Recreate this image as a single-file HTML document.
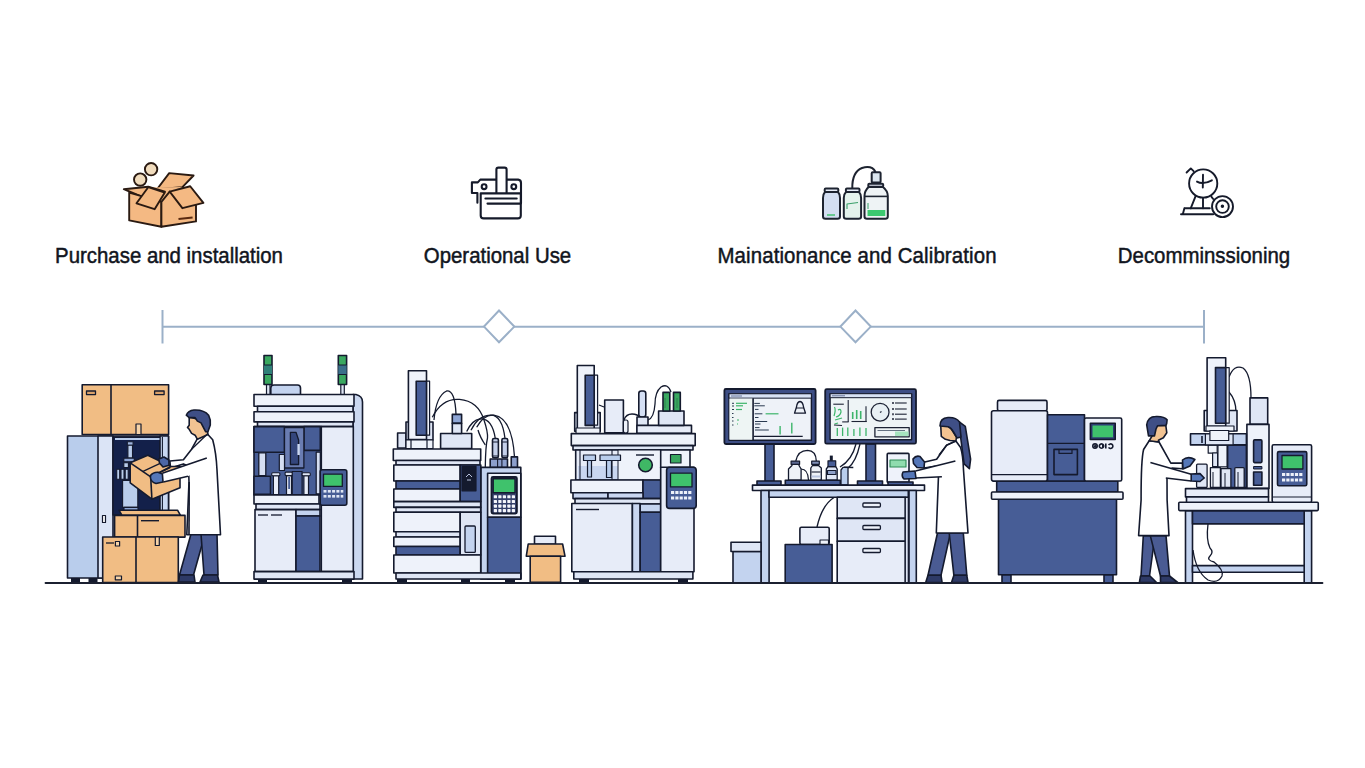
<!DOCTYPE html>
<html><head><meta charset="utf-8">
<style>
html,body{margin:0;padding:0;background:#ffffff;width:1365px;height:768px;overflow:hidden}
svg{position:absolute;left:0;top:0;display:block}
.lbl{font-family:"Liberation Sans",sans-serif;font-size:20.4px;fill:#111520;stroke:#111520;stroke-width:0.45px}
</style></head><body>
<svg width="1365" height="768" viewBox="0 0 1365 768">
<!-- labels -->
<g transform="translate(0,263.4) scale(1,1.05) translate(0,-263.4)">
<text class="lbl" x="169" y="263.4" text-anchor="middle">Purchase and installation</text>
<text class="lbl" x="497.5" y="263.4" text-anchor="middle">Operational Use</text>
<text class="lbl" x="857" y="263.4" text-anchor="middle" textLength="279" lengthAdjust="spacing">Mainationance and Calibration</text>
<text class="lbl" x="1204" y="263.4" text-anchor="middle">Decomminssioning</text>
</g>
<!-- ICON 1: box -->
<g stroke="#2a1a12" stroke-width="1.9" stroke-linejoin="round" fill="#f4b983">
<circle cx="151.1" cy="169.2" r="6.2" fill="#f1dcbd"/>
<circle cx="140.2" cy="179.6" r="6.2" fill="#f1dcbd"/>
<polygon points="169.2,173.1 193.6,175.5 182.4,187.2 157,189.2"/>
<polygon points="148,187.5 183,187 169.7,191.6 161.4,201.9 154.6,209" stroke="none"/>
<polygon points="123.8,189.2 148.2,186.7 165,191.6 150,196 140,196"/>
<polygon points="129.2,192.6 161.4,201.9 161.4,226.8 129.2,220.4"/>
<polygon points="161.4,201.9 169.7,191.6 196,205 196,221.4 161.4,226.8"/>
<polygon points="148.2,187.2 164.8,192.6 154.6,209.2 136.5,203.3"/>
<polygon points="169.7,191.6 190.2,186.25 203.4,202.9 182.4,208.2"/>
<line x1="178.5" y1="219" x2="192.6" y2="217.5" stroke="#5a2a10" stroke-width="2"/>
</g>
<!-- ICON 2: instrument -->
<g stroke="#151a2a" stroke-width="2.1" stroke-linejoin="round" stroke-linecap="round" fill="#fff">
<path d="M477.4 202.8 L477.4 193 L471.9 193 L471.9 182.4 L477.8 182.4 L480.3 179.6 L518.2 179.6 Q521 179.8 521 183 L521 203.2"/>
<path d="M496.4 192.6 L496.4 169.5 Q496.4 167.6 498.4 167.6 L504.6 167.6 Q506.6 167.6 506.6 169.5 L506.6 192.6"/>
<path d="M480.7 193.4 L520.8 193.4 L520.8 215.5 Q520.8 218.4 517.8 218.4 L483.7 218.4 Q480.7 218.4 480.7 215.5 Z"/>
<circle cx="484.1" cy="186.7" r="2.4"/>
<circle cx="513.8" cy="186.7" r="2.4"/>
<line x1="485.4" y1="198.5" x2="516.7" y2="198.5"/>
<line x1="487.5" y1="203.6" x2="520.5" y2="203.6"/>
</g>
<!-- ICON 3: bottles -->
<g stroke="#1d2330" stroke-width="2" stroke-linejoin="round">
<path d="M852.3 188.4 Q852 172 862 168 Q872 165 875.5 172" fill="none"/>
<rect x="824.7" y="188.4" width="13.6" height="3.6" rx="1" fill="#e7ecf8"/>
<path d="M825 192 Q823 194 823 198 L823 216.5 Q823 218.8 825.5 218.8 L837.5 218.8 Q840 218.8 840 216.5 L840 198 Q840 194 838 192 Z" fill="#d3def2"/>
<line x1="827" y1="215" x2="835" y2="215" stroke="#3cc06a" stroke-width="1.4"/>
<rect x="845.9" y="188.4" width="13.6" height="3.6" rx="1" fill="#e7ecf8"/>
<path d="M846 192 Q843.8 194 843.8 198 L843.8 216.5 Q843.8 218.8 846.3 218.8 L858.6 218.8 Q861.1 218.8 861.1 216.5 L861.1 198 Q861.1 194 859 192 Z" fill="#e4f2ec"/>
<path d="M847 209 L847 204 L858 202.5" fill="none" stroke="#3aa06a" stroke-width="1.1"/>
<rect x="871.7" y="172.3" width="8.9" height="10.1" rx="1" fill="#dbe6ef"/>
<rect x="868.3" y="183.7" width="14.9" height="3" rx="1" fill="#e7ecf8"/>
<path d="M868.5 187 Q864.5 191 864.5 196 L864.5 216.5 Q864.5 218.8 867 218.8 L885.3 218.8 Q887.8 218.8 887.8 216.5 L887.8 196 Q887.8 191 883 187 Z" fill="#eef3f5"/>
<line x1="864.8" y1="196.4" x2="887.5" y2="196.4" stroke-width="1.6"/>
<rect x="867.5" y="210" width="17.8" height="6" fill="#3cc870" stroke="none"/>
<line x1="868" y1="203" x2="868" y2="209" stroke="#3aa06a" stroke-width="1"/>
</g>
<!-- ICON 4: stopwatch / target -->
<g stroke="#151a2a" stroke-width="1.9" stroke-linejoin="round" stroke-linecap="round" fill="none">
<circle cx="1203.2" cy="183.5" r="14.1" fill="#fff"/>
<path d="M1203 174.8 L1202.8 187.5"/>
<path d="M1197 181.6 Q1203 185 1211.9 180.3"/>
<path d="M1186.6 172.5 L1190.8 168.4 L1193.6 171.2" stroke-width="1.9"/>
<line x1="1195.4" y1="196.6" x2="1190.7" y2="208.3"/>
<line x1="1203" y1="197.7" x2="1203" y2="208.3"/>
<path d="M1184.4 208.3 L1209.8 208.3 M1181 214.2 L1213.2 214.2 M1184.4 208.3 L1182.8 214.2"/>
<line x1="1211.5" y1="196.8" x2="1213.2" y2="199"/>
<circle cx="1222.5" cy="206.6" r="10.5" fill="#fff"/>
<circle cx="1222.5" cy="206.6" r="6.3"/>
<circle cx="1222.4" cy="206.2" r="0.8" fill="#151a2a"/>
</g>
<!-- timeline -->
<g stroke="#9bb0c8" stroke-width="2" fill="none">
<line x1="162.5" y1="326.8" x2="484" y2="326.8"/>
<line x1="514" y1="326.8" x2="840.5" y2="326.8"/>
<line x1="870.5" y1="326.8" x2="1204" y2="326.8"/>
<line x1="162.5" y1="310" x2="162.5" y2="343.5"/>
<line x1="1204" y1="310" x2="1204" y2="343.5"/>
<path d="M499 310.5 L514.3 326.6 L499 342.3 L484 326.6 Z" fill="#fff"/>
<path d="M855.5 310.5 L870.8 326.6 L855.5 342.3 L840.4 326.6 Z" fill="#fff"/>
</g>

<!-- OBJECT 1: cabinet, boxes, man -->
<g stroke="#141a2e" stroke-width="1.6" stroke-linejoin="round">
<!-- feet -->
<rect x="71" y="577" width="9" height="6" fill="#141a2e" stroke="none"/>
<rect x="88.5" y="577" width="9" height="6" fill="#141a2e" stroke="none"/>
<!-- cabinet -->
<rect x="67.5" y="436" width="101" height="142" fill="#b9cdec"/>
<rect x="98" y="436" width="15" height="142" fill="#dbe4f6"/>
<rect x="113" y="437" width="47" height="78" fill="#13204a"/>
<rect x="160" y="436" width="8.5" height="80" fill="#c9d8f2"/>
<!-- inside opening items -->
<rect x="115" y="438" width="44.5" height="2" fill="#b9cdec" stroke="none"/>
<line x1="162.4" y1="437" x2="162.4" y2="515" stroke-width="1.1"/>
<g stroke-width="1.1">
<rect x="127.3" y="441.7" width="5.8" height="3.5" fill="#9db3dd"/>
<rect x="127.9" y="445.2" width="4.6" height="12.9" fill="#b9cdec"/>
<rect x="123.8" y="458.1" width="10.5" height="3.6" fill="#8ea6d6"/>
<rect x="123.8" y="462.8" width="4.6" height="4.7" fill="#b9cdec"/>
<rect x="116.7" y="469.3" width="3" height="9.9" fill="#b9cdec"/><rect x="121" y="469.3" width="3" height="9.9" fill="#b9cdec"/><rect x="125.2" y="469.3" width="3" height="9.9" fill="#b9cdec"/>
<rect x="122.6" y="480.4" width="15.2" height="27" fill="#b9cdec"/>
<rect x="124" y="507.4" width="14" height="3" fill="#8ea6d6"/>
</g>
<!-- door handle -->
<rect x="102.5" y="515.5" width="3" height="7" fill="#fff" stroke-width="1.2"/>
<!-- top box -->
<rect x="82.2" y="384.7" width="86.4" height="49.8" fill="#f1bd84"/>
<line x1="111" y1="384.7" x2="111" y2="434.5"/>
<rect x="86.5" y="391" width="9" height="3.6" fill="#d9a16a" stroke-width="1.3"/>
<rect x="154.6" y="391" width="9.5" height="3.6" fill="#d9a16a" stroke-width="1.3"/>
<rect x="136" y="424" width="5" height="10.5" fill="#f6d3a8" stroke-width="1.2"/>
<!-- middle box -->
<polygon points="119,510.2 177.5,510.2 180.5,515.4 122,515.4" fill="#f1bd84"/>
<rect x="114.6" y="515.4" width="70.4" height="21.7" fill="#f1bd84"/>
<line x1="137.5" y1="515.4" x2="137.5" y2="537"/>
<line x1="141" y1="520.7" x2="159" y2="520.7" stroke-width="1.4"/>
<!-- bottom box -->
<rect x="102.7" y="537" width="75.6" height="45.5" fill="#f1bd84"/>
<line x1="136" y1="537" x2="136" y2="582.5"/>
<line x1="106" y1="543" x2="114" y2="543" stroke-width="1.3"/>
<rect x="115.4" y="541.5" width="4.2" height="4.5" fill="#f6d3a8" stroke-width="1.2"/>
<rect x="115.3" y="576" width="6.2" height="3.8" fill="#f6d3a8" stroke-width="1.2"/>
<rect x="155.3" y="537" width="4" height="8.5" fill="#f6d3a8" stroke-width="1.2"/>
<!-- man legs -->
<polygon points="191,534 205,534 193.5,575 179.5,575" fill="#4a5b93"/>
<polygon points="201,534 217,534 218,575 204,575" fill="#4a5b93"/>
<path d="M178.5 582 L179.5 575 L194 575 L195 582 Z" fill="#2e3a66"/>
<path d="M200 582 L203 575 L217.5 575 L219 582 Z" fill="#2e3a66"/>
<!-- coat -->
<path d="M197.4 438.7 L207.4 434 L212.7 439.8 Q216.2 452.7 217 470 L220.5 534.7 L186.8 534.7 L189 482 L188.5 466 L183.4 463.9 L170.5 468 L169.9 461 L183.4 459.8 L191.6 449.2 Z" fill="#ffffff"/>
<line x1="189.2" y1="482" x2="189" y2="534"/>
<!-- held box -->
<polygon points="130.2,462.8 147.8,455.2 171,466.5 180,466.5 180,487.7 151.9,499.2 130.2,482.8" fill="#f1bd84"/>
<polyline points="130.2,462.8 150.7,476.9 170.1,467.5" fill="none"/>
<line x1="150.7" y1="476.9" x2="151.9" y2="499.2"/>
<line x1="150.7" y1="476.9" x2="171" y2="466.5"/>
<line x1="142.5" y1="471.6" x2="160.1" y2="463.4" stroke-width="1.3"/>
<!-- back glove -->
<path d="M158.9 459 L164 457 L168.9 460 L169 465.2 L163 467 L159.5 463 Z" fill="#4d67a6"/>
<!-- front arm -->
<path d="M206.8 458 L162.3 473.2 L163.4 482 L188 476.2 L200 470 Z" fill="#ffffff" stroke="none"/>
<polyline points="206.8,458 162.3,473.2" fill="none"/>
<polyline points="163.4,482 188,476.2" fill="none"/>
<!-- front glove -->
<path d="M150.5 475.5 Q153 472 158 472.2 L162.4 474 L163 482 L156 483.5 Q151 482 150.5 478 Z" fill="#5577b8"/>
<!-- neck/face -->
<path d="M189.2 417 L189.2 425.2 L187.5 427.5 L189.2 429.3 L191.6 433.4 L195.1 435.2 L197.4 439.3 L208 434.6 L207.4 431 L204 424 L197 419 Z" fill="#f2c392"/>
<!-- hair -->
<path d="M186.3 415.2 Q188 410.5 194 410 Q204 409.5 208.6 415.2 Q211 420 210.3 425 L208 431.6 Q206 432 205.6 431.6 L201 422.9 L197.4 421.1 L195.1 417.6 L189.2 417.6 Z" fill="#3f4f86"/>
<path d="M207.4 434 L191.6 449.2" fill="none" stroke-width="1.3"/>
</g>

<!-- OBJECT 2: machine with signal lights -->
<g stroke="#141a2e" stroke-width="1.6" stroke-linejoin="round">
<rect x="258" y="578" width="9" height="5" fill="#141a2e" stroke="none"/>
<rect x="342" y="578" width="10" height="5" fill="#141a2e" stroke="none"/>
<!-- poles -->
<rect x="266.5" y="384" width="3.5" height="11" fill="#dfe6f5" stroke-width="1.2"/>
<rect x="340.8" y="384" width="3.5" height="11" fill="#dfe6f5" stroke-width="1.2"/>
<!-- lights -->
<rect x="264" y="355.5" width="8" height="29" fill="#3aa860"/>
<rect x="264" y="365" width="8" height="9.5" fill="#2f7f78" stroke="none"/>
<line x1="264" y1="365" x2="272" y2="365" stroke-width="1"/><line x1="264" y1="374.5" x2="272" y2="374.5" stroke-width="1"/>
<rect x="338.3" y="355.5" width="8.3" height="29" fill="#3aa860"/>
<rect x="338.3" y="365" width="8.3" height="9.5" fill="#3a6f8a" stroke="none"/>
<line x1="338.3" y1="365" x2="346.6" y2="365" stroke-width="1"/><line x1="338.3" y1="374.5" x2="346.6" y2="374.5" stroke-width="1"/>
<!-- small top box -->
<path d="M270.8 395 L270.8 388 Q270.8 385 274 385 L297.5 385 Q300.5 385 300.5 388 L300.5 395 Z" fill="#c3d3ef"/>
<!-- right side panel -->
<path d="M353 394.5 L356 394.5 Q362.5 396 362.5 402 L362.5 579 L353 579 Z" fill="#cbd8f0"/>
<!-- slabs -->
<rect x="254" y="394.5" width="100" height="11.8" fill="#eef2fa"/>
<rect x="257.5" y="406.3" width="95.5" height="5.4" fill="#dfe6f5"/>
<rect x="254" y="411.7" width="100" height="10.2" fill="#eef2fa"/>
<rect x="257.5" y="421.9" width="95.5" height="4.7" fill="#dfe6f5"/>
<!-- mid navy area -->
<rect x="254" y="426.6" width="67.3" height="68.4" fill="#475d96"/>
<rect x="254" y="426.6" width="30.5" height="25.6" fill="#475d96"/>
<rect x="303.9" y="426.6" width="16.4" height="23.8" fill="#475d96"/>
<rect x="284.5" y="427.6" width="19.4" height="40.4" fill="#6a7db2" stroke-width="1.3"/>
<path d="M290.4 432.3 L296 432.3 L298.6 440 L298.6 464.5 L290.4 464.5 Z" fill="#34467c" stroke-width="1.3"/>
<rect x="297.4" y="444" width="2.4" height="11" fill="#c9d6f0" stroke="none"/>
<rect x="258.8" y="452.8" width="7" height="22.8" fill="#d5def2" stroke-width="1.3"/>
<rect x="279.3" y="454.5" width="5.2" height="16" fill="#d5def2" stroke-width="1.2"/>
<rect x="316.2" y="452.2" width="4.1" height="41.6" fill="#d5def2" stroke-width="1.2"/>
<rect x="254" y="476.2" width="16.5" height="18.2" fill="#475d96"/>
<rect x="292.2" y="471.5" width="9.9" height="23" fill="#475d96" stroke-width="1.2"/>
<rect x="273.4" y="475.6" width="5.3" height="19" fill="#e7ecf8" stroke-width="1.2"/>
<rect x="271.7" y="472.7" width="8.2" height="3" rx="1" fill="#dfe6f5" stroke-width="1.1"/>
<rect x="286.5" y="475.6" width="5" height="19" fill="#e7ecf8" stroke-width="1.2"/>
<rect x="288.2" y="477" width="1.8" height="12" fill="#475d96" stroke="none"/>
<rect x="285.1" y="472.1" width="7.1" height="3.5" rx="1" fill="#dfe6f5" stroke-width="1.1"/>
<rect x="303.9" y="475.6" width="4.6" height="19" fill="#e7ecf8" stroke-width="1.2"/>
<rect x="302.1" y="472.7" width="8.2" height="3" rx="1" fill="#dfe6f5" stroke-width="1.1"/>
<!-- right white panel -->
<rect x="321.3" y="426.6" width="32" height="145" fill="#e7ecf8"/>
<!-- shelf -->
<rect x="254" y="495" width="65" height="9" fill="#eef2fa"/>
<rect x="256" y="504" width="64" height="5.6" fill="#dfe6f5"/>
<!-- lower door -->
<rect x="255" y="509.6" width="41" height="62" fill="#e7ecf8"/>
<line x1="258" y1="515" x2="268" y2="515" stroke-width="1.3"/><line x1="271" y1="515" x2="282" y2="515" stroke-width="1.3"/>
<rect x="296" y="509.6" width="24" height="6.4" fill="#c3d3ef"/>
<rect x="296" y="516" width="24" height="55.6" fill="#475d96"/>
<!-- base -->
<rect x="254" y="571.6" width="100" height="7.5" fill="#dfe6f5"/>
<!-- keypad -->
<rect x="320.2" y="469.8" width="26.6" height="35.4" rx="2" fill="#475d96"/>
<rect x="323.5" y="474.2" width="18.8" height="12.2" fill="#3fc26c" stroke-width="1.3"/>
<g fill="#dfe6f5" stroke="none">
<rect x="323.5" y="490" width="3" height="2.6"/><rect x="327.8" y="490" width="3" height="2.6"/><rect x="332.1" y="490" width="3" height="2.6"/><rect x="336.4" y="490" width="3" height="2.6"/><rect x="340.7" y="490" width="2.6" height="2.6"/>
<rect x="323.5" y="495" width="3" height="2.6"/><rect x="327.8" y="495" width="3" height="2.6"/><rect x="332.1" y="495" width="3" height="2.6"/><rect x="336.4" y="495" width="3" height="2.6"/><rect x="340.7" y="495" width="2.6" height="2.6"/>
</g>
</g>

<!-- OBJECT 3: HPLC stack -->
<g stroke="#141a2e" stroke-width="1.6" stroke-linejoin="round">
<rect x="397" y="578" width="10" height="5" fill="#141a2e" stroke="none"/>
<rect x="461" y="578" width="9" height="5" fill="#141a2e" stroke="none"/>
<rect x="505" y="578" width="10" height="5" fill="#141a2e" stroke="none"/>
<!-- tubes (behind) -->
<g fill="none" stroke-width="1.3">
<path d="M434 420 Q436 396 446.6 391 Q455 390 456 414.4"/>
<path d="M432.3 417.3 Q442 398 459.5 399.4 Q478 401 484 420 Q488 432 487.5 438 Q485.5 446 485.3 467.5"/>
<path d="M478 430 Q480 437 485.3 445"/>
<path d="M466.7 431.6 Q472 420 480 419 Q492 418 495.3 438.5"/>
<path d="M471 430.2 Q478 416 489.6 415.2 Q502 414 505 438.5"/>
<path d="M476.7 427.3 Q484 414 493.9 415.2 Q512 418 514.5 456.9"/>
</g>
<!-- tower -->
<rect x="397.6" y="433" width="8.4" height="15" fill="#dfe6f5"/>
<rect x="406" y="422" width="27" height="18" fill="#dfe6f5"/>
<rect x="408.4" y="370.7" width="18.1" height="68.8" fill="#eef2fa"/>
<rect x="426.5" y="381.2" width="3.1" height="54" fill="#eef2fa" stroke-width="1.2"/>
<rect x="416.2" y="381.2" width="10.3" height="54" fill="#475d96"/>
<rect x="406" y="440" width="27" height="8.5" fill="#eef2fa" stroke-width="1.2"/>
<line x1="411" y1="440" x2="411" y2="448.5" stroke-width="1.2"/><line x1="427" y1="440" x2="427" y2="448.5" stroke-width="1.2"/>
<!-- middle box + cylinder -->
<rect x="440.6" y="433.5" width="31.1" height="15" fill="#dfe6f5"/>
<rect x="452.3" y="414.4" width="9.3" height="9" fill="#8ea6d6"/>
<rect x="452.3" y="423.4" width="9.3" height="10.1" fill="#dfe6f5"/>
<!-- vials -->
<rect x="490.2" y="459" width="17.3" height="8.5" fill="#8c9fcc"/>
<line x1="497.6" y1="459" x2="497.6" y2="467.5" stroke-width="1.1"/><line x1="501.9" y1="459" x2="501.9" y2="467.5" stroke-width="1.1"/>
<rect x="511.25" y="456.9" width="6.25" height="10.6" fill="#8c9fcc"/>
<rect x="492.5" y="438.5" width="5.9" height="19.2" rx="1.5" fill="#c5d0ea"/>
<rect x="501.9" y="438.5" width="5.8" height="19.2" rx="1.5" fill="#c5d0ea"/>
<line x1="492.5" y1="442" x2="498.4" y2="442" stroke-width="1"/><line x1="501.9" y1="442" x2="507.7" y2="442" stroke-width="1"/>
<line x1="492.5" y1="456" x2="498.4" y2="456" stroke-width="1"/><line x1="501.9" y1="456" x2="507.7" y2="456" stroke-width="1"/>
<!-- right tall module -->
<rect x="480.8" y="467.4" width="40" height="111.6" fill="#c3d3ef"/>
<rect x="487.6" y="473.2" width="33.2" height="44" fill="#eef2fa"/>
<rect x="487.6" y="517.2" width="33.2" height="61.8" fill="#475d96"/>
<rect x="491.5" y="477" width="25.4" height="36.5" rx="1.5" fill="#34406a" stroke-width="1.8"/>
<rect x="493.2" y="478.8" width="21.8" height="14" fill="#3fc26c" stroke-width="1.4"/>
<g fill="#f4f6fb" stroke="none">
<rect x="493.8" y="495.2" width="3.2" height="3.1" rx="0.6"/><rect x="498.3" y="495.2" width="3.2" height="3.1" rx="0.6"/><rect x="502.8" y="495.2" width="3.2" height="3.1" rx="0.6"/><rect x="507.3" y="495.2" width="3.2" height="3.1" rx="0.6"/><rect x="511.8" y="495.2" width="3.2" height="3.1" rx="0.6"/>
<rect x="493.8" y="499.9" width="3.2" height="3.1" rx="0.6"/><rect x="498.3" y="499.9" width="3.2" height="3.1" rx="0.6"/><rect x="502.8" y="499.9" width="3.2" height="3.1" rx="0.6"/><rect x="507.3" y="499.9" width="3.2" height="3.1" rx="0.6"/><rect x="511.8" y="499.9" width="3.2" height="3.1" rx="0.6"/>
<rect x="493.8" y="504.6" width="3.2" height="3.1" rx="0.6"/><rect x="498.3" y="504.6" width="3.2" height="3.1" rx="0.6"/><rect x="502.8" y="504.6" width="3.2" height="3.1" rx="0.6"/><rect x="507.3" y="504.6" width="3.2" height="3.1" rx="0.6"/><rect x="511.8" y="504.6" width="3.2" height="3.1" rx="0.6"/>
<rect x="493.8" y="509.1" width="3.2" height="3.1" rx="0.6"/><rect x="498.3" y="509.1" width="3.2" height="3.1" rx="0.6"/><rect x="502.8" y="509.1" width="3.2" height="3.1" rx="0.6"/><rect x="507.3" y="509.1" width="3.2" height="3.1" rx="0.6"/><rect x="511.8" y="509.1" width="3.2" height="3.1" rx="0.6"/>
</g>
<!-- stack layers -->
<rect x="393.3" y="449" width="87.4" height="11.5" fill="#eef2fa"/>
<rect x="396" y="460.5" width="84" height="4.5" fill="#dfe6f5"/>
<rect x="393.8" y="465" width="66.4" height="16" fill="#eef2fa"/>
<rect x="396" y="481" width="64.2" height="8" fill="#475d96"/>
<rect x="393.8" y="489" width="66.4" height="12.6" fill="#eef2fa"/>
<rect x="460.2" y="465" width="20.6" height="36.6" fill="#475d96"/>
<rect x="462" y="466.4" width="14" height="24.4" fill="#141a2e" stroke-width="1.2"/>
<path d="M466 477 l3 -3 l3 3 m-5 3 l4 0" stroke="#c9d6f0" stroke-width="0.9" fill="none"/>
<rect x="393.8" y="501.6" width="86.9" height="5.8" fill="#dfe6f5"/>
<rect x="396" y="507.4" width="84.7" height="4.9" fill="#dfe6f5"/>
<rect x="393.8" y="512.3" width="66.4" height="19.5" fill="#eef2fa"/>
<rect x="396" y="531.8" width="64.2" height="5.2" fill="#dfe6f5"/>
<rect x="393.8" y="537" width="66.4" height="9.5" fill="#eef2fa"/>
<rect x="396" y="546.5" width="64.2" height="8.5" fill="#475d96"/>
<rect x="460.2" y="512.3" width="20.6" height="42.7" fill="#dfe6f5"/>
<rect x="465" y="526" width="10.3" height="26.4" rx="1" fill="#c3d3ef" stroke-width="1.3"/>
<rect x="393.8" y="555" width="86.9" height="18" fill="#eef2fa"/>
<rect x="396" y="573" width="124.8" height="6" fill="#dfe6f5"/>
</g>
<!-- small orange box -->
<g stroke="#141a2e" stroke-width="1.6" stroke-linejoin="round">
<rect x="534.5" y="536.3" width="21" height="8" fill="#e7ecf8"/>
<polygon points="528.2,544 562.6,544 565,556.2 526.3,556.2" fill="#f1bd84"/>
<rect x="530.2" y="556.2" width="30.4" height="26.1" fill="#f1bd84"/>
</g>

<!-- OBJECT 4: automated workstation -->
<g stroke="#141a2e" stroke-width="1.6" stroke-linejoin="round">
<rect x="579" y="578" width="10" height="5" fill="#141a2e" stroke="none"/>
<rect x="678" y="578" width="10" height="5" fill="#141a2e" stroke="none"/>
<!-- cable -->
<path d="M648 420 Q654 418 655 404 Q655 392 661 387 Q668 383 671 392" fill="none" stroke-width="1.3"/>
<path d="M624 420 Q626 414 632 414 Q638 414 640 418" fill="none" stroke-width="1.3"/>
<path d="M599 405 L604 407" fill="none" stroke-width="1.3"/>
<!-- tower -->
<rect x="574.7" y="412.6" width="25.5" height="18.7" fill="#dfe6f5"/>
<rect x="577.3" y="365.5" width="16.9" height="64.5" fill="#eef2fa"/>
<rect x="594.2" y="375.2" width="3.4" height="50" fill="#eef2fa" stroke-width="1.2"/>
<rect x="585.2" y="375.2" width="9" height="50.2" fill="#475d96"/>
<rect x="576" y="428" width="24" height="5.5" fill="#eef2fa" stroke-width="1.2"/>
<!-- box -->
<rect x="604.7" y="400" width="18.7" height="32.8" fill="#e7ecf8"/>
<rect x="623.4" y="420" width="4.6" height="13" rx="2" fill="#eef2fa" stroke-width="1.2"/>
<!-- column -->
<rect x="638.8" y="391" width="7" height="26" rx="2.5" fill="#d5e0f5"/>
<rect x="637" y="417" width="11" height="16" fill="#dfe6f5"/>
<!-- platform right -->
<rect x="636.9" y="425.4" width="54.6" height="7.8" fill="#e7ecf8"/>
<rect x="658.6" y="411" width="25.4" height="14.4" fill="#dfe6f5"/>
<rect x="663" y="392.4" width="6.8" height="18.6" fill="#3aa860"/>
<rect x="673.5" y="392.4" width="6.8" height="18.6" fill="#3aa860"/>
<path d="M665 398 v10 M677 398 v10" stroke="#2b7a48" stroke-width="0.8"/>
<!-- big slab -->
<rect x="571.3" y="433.6" width="123.9" height="12" fill="#eef2fa"/>
<rect x="573" y="445.6" width="120" height="4.4" fill="#dfe6f5"/>
<!-- interior -->
<rect x="575.7" y="450" width="85" height="30" fill="#e7ecf8"/>
<rect x="578" y="466" width="58" height="13" fill="#c9d6f0" stroke="none"/>
<rect x="618" y="450" width="42.7" height="30" fill="#eef2fa" stroke-width="1"/>
<line x1="580" y1="450" x2="580" y2="480" stroke-width="1.1"/>
<line x1="612" y1="450" x2="612" y2="480" stroke-width="1.1"/>
<rect x="583.5" y="455" width="12" height="5.5" fill="#b9cdec" stroke-width="1.2"/>
<rect x="587.5" y="460.5" width="4" height="16.5" fill="#b9cdec" stroke-width="1.2"/>
<rect x="600" y="455" width="20.5" height="5.5" fill="#b9cdec" stroke-width="1.2"/>
<rect x="606.5" y="460.5" width="5" height="17" fill="#b9cdec" stroke-width="1.2"/>
<line x1="636" y1="455" x2="654" y2="455" stroke-width="1.4"/>
<circle cx="645.5" cy="465" r="6.8" fill="#3fb865"/>
<!-- right compartment -->
<rect x="660.7" y="450" width="29.3" height="18" fill="#eef2fa"/>
<rect x="670.5" y="454.5" width="10.5" height="8.5" fill="#3aa860" stroke-width="1.2"/>
<!-- shelf -->
<rect x="570.9" y="480" width="72.1" height="12.7" fill="#eef2fa"/>
<rect x="643" y="480" width="17.7" height="18.6" fill="#475d96"/>
<rect x="573" y="492.7" width="35" height="5.9" fill="#c9d6f0"/>
<rect x="608" y="492.7" width="35" height="5.9" fill="#c9d6f0"/>
<rect x="575" y="498.6" width="85.7" height="5.4" fill="#dfe6f5"/>
<!-- lower -->
<rect x="571.8" y="503.5" width="60.6" height="68.3" fill="#e7ecf8"/>
<line x1="576" y1="509.5" x2="599" y2="509.5" stroke-width="1.4"/>
<rect x="632.4" y="503.5" width="7.8" height="68.3" fill="#c9d6f0"/>
<rect x="640.2" y="504" width="20.5" height="8.3" fill="#c3d3ef"/>
<rect x="640.2" y="512.3" width="20.5" height="59.5" fill="#475d96"/>
<rect x="660.7" y="467.3" width="33.3" height="104.5" fill="#e7ecf8"/>
<rect x="573.8" y="571.8" width="119.1" height="7.2" fill="#dfe6f5"/>
<!-- keypad -->
<rect x="666.6" y="467.3" width="29.6" height="41.1" rx="3" fill="#475d96"/>
<rect x="670.5" y="473.2" width="21.5" height="13.7" fill="#3fc26c" stroke-width="1.3"/>
<g fill="#eef2fa" stroke="none">
<rect x="671" y="491" width="3.2" height="3"/><rect x="675.3" y="491" width="3.2" height="3"/><rect x="679.6" y="491" width="3.2" height="3"/><rect x="683.9" y="491" width="3.2" height="3"/><rect x="688.2" y="491" width="3.2" height="3"/>
<rect x="671" y="496.5" width="3.2" height="3"/><rect x="675.3" y="496.5" width="3.2" height="3"/><rect x="679.6" y="496.5" width="3.2" height="3"/><rect x="683.9" y="496.5" width="3.2" height="3"/><rect x="688.2" y="496.5" width="3.2" height="3"/>
</g>
</g>

<!-- OBJECT 5: desk workstation -->
<g stroke="#141a2e" stroke-width="1.6" stroke-linejoin="round">
<!-- monitor stands -->
<rect x="765" y="444" width="9" height="37.6" fill="#475d96"/>
<rect x="757" y="481" width="24" height="4.5" fill="#475d96"/>
<rect x="866" y="444" width="9.5" height="37.6" fill="#475d96"/>
<rect x="857.5" y="481" width="25" height="4.5" fill="#475d96"/>
<!-- monitor 1 -->
<rect x="724.4" y="389" width="91.2" height="55" rx="1.5" fill="#3d4e85" stroke-width="1.8"/>
<rect x="729" y="393.75" width="82.4" height="46.45" fill="#eef2f8" stroke-width="1.4"/>
<rect x="729" y="393.75" width="82.4" height="4.4" fill="#d8e2f4" stroke-width="1"/>
<line x1="731" y1="396" x2="742" y2="396" stroke="#5a6a90" stroke-width="0.9"/>
<rect x="729.5" y="398.6" width="23.3" height="41" fill="#eef5f4" stroke="none"/>
<line x1="753.1" y1="398.2" x2="753.1" y2="440" stroke-width="1.6"/>
<g stroke="#3cb56a" stroke-width="1.2">
<line x1="736" y1="403.3" x2="747" y2="403.3"/><line x1="736" y1="405.8" x2="743" y2="405.8"/><line x1="736" y1="409.5" x2="742" y2="409.5"/>
<line x1="737" y1="420" x2="739" y2="420"/><line x1="737" y1="424" x2="738" y2="424"/>
<line x1="765.6" y1="413.8" x2="778.5" y2="413.8"/>
<line x1="780.1" y1="426" x2="780.1" y2="434.4" stroke-width="1.4"/><line x1="791.8" y1="422.7" x2="791.8" y2="433.6" stroke-width="1.4"/>
</g>
<g stroke="#2a3a50" stroke-width="1">
<line x1="732" y1="403.3" x2="734" y2="403.3"/><line x1="732" y1="406" x2="734" y2="406"/><line x1="732" y1="409.5" x2="734" y2="409.5"/><line x1="732" y1="413.5" x2="733.5" y2="413.5"/><line x1="732" y1="417.5" x2="733.5" y2="417.5"/><line x1="732" y1="421" x2="733.5" y2="421"/><line x1="732" y1="425" x2="733.5" y2="425"/>
<line x1="754.3" y1="403.4" x2="759.9" y2="403.4"/><line x1="754.3" y1="405.8" x2="764.8" y2="405.8"/><line x1="755" y1="409.4" x2="758.5" y2="409.4"/>
<line x1="754.7" y1="413.8" x2="762.4" y2="413.8"/><line x1="755" y1="417.5" x2="758.5" y2="417.5"/><line x1="755" y1="421.5" x2="767.2" y2="421.5"/><line x1="755" y1="424" x2="760.5" y2="424"/>
<line x1="755" y1="427.6" x2="759.5" y2="427.6"/><line x1="755" y1="430" x2="768.8" y2="430"/>
</g>
<line x1="753.9" y1="436.4" x2="802.7" y2="436.4" stroke-width="1.2"/>
<path d="M794.5 413.2 L796.5 407 Q797 402 800 401.5 Q803 402 803.5 407 L805.5 413.2 Z" fill="#eef2f8" stroke-width="1.3"/>
<line x1="796" y1="408" x2="804" y2="408" stroke-width="1"/>
<!-- monitor 2 -->
<rect x="825.2" y="389.2" width="90.8" height="54.5" rx="1.5" fill="#3d4e85" stroke-width="1.8"/>
<rect x="830.1" y="393.7" width="81.5" height="46" fill="#eef4f6" stroke-width="1.4"/>
<rect x="830.1" y="393.7" width="81.5" height="4" fill="#d8e2f4" stroke-width="1"/>
<line x1="832" y1="395.8" x2="845" y2="395.8" stroke="#5a6a90" stroke-width="0.9"/>
<g stroke="#3cb56a" stroke-width="1.2" fill="none">
<path d="M834 416 Q836 410 834.5 407"/><path d="M838 410 Q841 408 841 412 Q840 416 836 417"/><path d="M835 420 L842 418"/><path d="M834.5 424 L838 423"/>
<line x1="852.7" y1="412" x2="852.7" y2="419" stroke-width="1.6"/><line x1="856.7" y1="410" x2="856.7" y2="419" stroke-width="1.6"/><line x1="860.7" y1="411" x2="860.7" y2="419" stroke-width="1.6"/>
<line x1="837.3" y1="428" x2="837.3" y2="436" stroke-width="1.3"/><line x1="842.6" y1="427.6" x2="842.6" y2="436" stroke-width="1.3"/><line x1="847.8" y1="427.6" x2="847.8" y2="436" stroke-width="1.3"/><line x1="853.9" y1="429" x2="853.9" y2="436" stroke-width="1.3"/><line x1="859.9" y1="427.6" x2="859.9" y2="436" stroke-width="1.3"/><line x1="866" y1="428" x2="866" y2="436" stroke-width="1.3"/>
</g>
<g fill="none" stroke="#1d2335" stroke-width="1.1">
<line x1="833.3" y1="404.2" x2="843.8" y2="404.2"/><line x1="834" y1="425" x2="842" y2="425.5"/>
<line x1="848.2" y1="400.1" x2="848.2" y2="422"/><line x1="842.2" y1="421.9" x2="848.6" y2="421.9"/>
<line x1="866" y1="406.2" x2="866" y2="421.5"/><line x1="851.5" y1="421.5" x2="866.8" y2="421.5"/>
<circle cx="880.1" cy="412.2" r="8.9" stroke-width="1.3" fill="#e8f0f4"/>
<line x1="880" y1="412.5" x2="881.5" y2="411.5"/>
<line x1="895" y1="403" x2="906.7" y2="403"/><line x1="895" y1="409" x2="906.7" y2="409"/><line x1="895" y1="414.2" x2="906.7" y2="414.2"/><line x1="895" y1="419.1" x2="906.7" y2="419.1"/>
<line x1="893" y1="402" x2="893" y2="404" stroke-width="1.5"/><line x1="893" y1="408" x2="893" y2="410" stroke-width="1.5"/><line x1="893" y1="413.2" x2="893" y2="415.2" stroke-width="1.5"/><line x1="893" y1="418.1" x2="893" y2="420.1" stroke-width="1.5"/>
<rect x="874.9" y="427.6" width="34.3" height="9.2" stroke-width="1.3"/>
</g>
<rect x="895" y="431.5" width="13.5" height="4.5" fill="#a6e3bf" stroke="none"/>
<line x1="877.5" y1="430.5" x2="905" y2="430.5" stroke="#2a3a50" stroke-width="0.7"/>
<!-- cable from monitor 2 -->
<path d="M856 444 Q852 460 840 467" fill="none" stroke-width="1.3"/>
<path d="M860 444 Q856 462 848 468" fill="none" stroke-width="1.3"/>
<!-- desk top items -->
<rect x="785.3" y="480.2" width="55" height="4.8" fill="#475d96"/>
<path d="M795.8 461 Q798 450.3 807.5 450.3 Q816 450.5 816.3 461" fill="none" stroke-width="1.3"/>
<path d="M801 469 Q808 469 808.5 480" fill="none" stroke-width="1.2"/>
<path d="M788.5 480 L788.5 469 L792 465.5 L792 464.3 L799 464.3 L799 465.5 L801.1 469 L801.1 480 Z" fill="#eef2f8" stroke-width="1.3"/>
<rect x="791.1" y="461.1" width="8.5" height="3.2" fill="#5a6790" stroke-width="1.2"/>
<path d="M810.8 480 L810.8 468 L812.5 465.5 L818.5 465.5 L821.3 468 L821.3 480 Z" fill="#eef2f8" stroke-width="1.3"/>
<rect x="811.7" y="461.1" width="7.6" height="3.2" fill="#8090b8" stroke-width="1.2"/>
<line x1="811.5" y1="472" x2="820.5" y2="472" stroke-width="1.1"/>
<rect x="811.5" y="475.5" width="9" height="2" fill="#b9c6e2" stroke="none"/>
<path d="M826.3 480 L826.3 469 L828 466.7 L835.7 466.7 L837.2 469 L837.2 480 Z" fill="#dfe6f5" stroke-width="1.3"/>
<rect x="828" y="460.8" width="7.7" height="5.9" fill="#475d96" stroke-width="1.2"/>
<rect x="829.8" y="455.6" width="3" height="5.2" fill="#141a2e" stroke="none"/>
<rect x="827.5" y="470.5" width="8.5" height="4" fill="#8ea0c8" stroke-width="1.1"/>
<path d="M841 485 L841 470 L843 467.3 L848 467.3 L848 485 Z" fill="#b9cdec" stroke-width="1.3"/>
<path d="M844 467.3 L853.3 467.5" fill="none" stroke-width="1.4"/>
<!-- device on desk -->
<rect x="887.2" y="453.4" width="21.8" height="29" rx="1" fill="#eef2fa"/>
<rect x="890" y="460" width="16" height="7" fill="#8fdcae" stroke="#2f8a56" stroke-width="1.1"/>
<rect x="888" y="482" width="25" height="3.5" fill="#475d96"/>
<!-- desk -->
<rect x="752.5" y="485.1" width="172" height="5.4" fill="#eef2fa"/>
<rect x="761" y="490.5" width="8.1" height="92.5" fill="#c3d3ef"/>
<rect x="769" y="490.5" width="139.3" height="6.8" fill="#c3d3ef"/>
<rect x="837.2" y="497.3" width="68.1" height="21.1" fill="#dfe6f5"/>
<rect x="837.2" y="518.4" width="68.1" height="22.8" fill="#dfe6f5"/>
<rect x="837.2" y="541.2" width="68.1" height="41.8" fill="#e7ecf8"/>
<rect x="862.9" y="503" width="17.5" height="4" rx="1" fill="#eef2fa" stroke-width="1.3"/>
<rect x="862.9" y="525.5" width="17.5" height="4" rx="1" fill="#eef2fa" stroke-width="1.3"/>
<rect x="862.9" y="548.5" width="17.5" height="4" rx="1" fill="#eef2fa" stroke-width="1.3"/>
<rect x="905.3" y="497.3" width="3" height="85.7" fill="#dfe6f5" stroke-width="1.2"/>
<rect x="909" y="490.5" width="7.3" height="92.5" fill="#c3d3ef"/>
<!-- bin -->
<rect x="733" y="551.5" width="28" height="31.5" fill="#c3d3ef"/>
<rect x="731" y="542.3" width="30" height="9.2" fill="#dfe6f5"/>
<!-- cable under desk -->
<path d="M817 527 Q822 505 834 497.5" fill="none" stroke-width="1.4"/>
<!-- printer & CPU -->
<rect x="799.9" y="527.2" width="29.3" height="17.3" rx="1.5" fill="#e7ecf8"/>
<rect x="820" y="540" width="8.5" height="4.5" fill="#eef2fa" stroke-width="1.1"/>
<rect x="785.2" y="544.5" width="46.9" height="38.5" fill="#475d96"/>
</g>

<!-- WOMAN -->
<g stroke="#141a2e" stroke-width="1.6" stroke-linejoin="round">
<polygon points="937.5,533 950.4,533 941,575.3 928,575.3" fill="#4a5b93"/>
<polygon points="949.2,533 963.3,533 966.8,575.3 953.9,575.3" fill="#4a5b93"/>
<path d="M925.7 582.5 L928 575.3 L941 575.3 L942.1 582.5 Z" fill="#2e3a66"/>
<path d="M951.5 582.5 L953.9 575.3 L966.8 575.3 L968 582.5 Z" fill="#2e3a66"/>
<!-- ponytail -->
<path d="M958.9 421.7 L965.3 426.4 L970.6 459.2 L969.4 468.6 L964.1 463.9 L960.6 437 Z" fill="#3f4f86"/>
<!-- coat -->
<path d="M946.6 445.2 L955.9 441 L960.6 447.5 Q963 455 963.5 470 L968 533 L936.3 533 L938.4 478 L938.5 466.2 L934.8 466.25 L924.3 468 L923.7 462.2 L936.6 459.2 Z" fill="#ffffff"/>
<path d="M913 459 Q916 455 920 456.5 L924.5 462 L924 468 L917 467.5 L913.5 463.5 Z" fill="#5577b8"/>
<!-- front arm -->
<path d="M955.4 461 L915.5 471 L915.5 478 L941.9 476.8 L950 470 Z" fill="#ffffff" stroke="none"/>
<polyline points="955.4,461 915.5,471" fill="none"/>
<polyline points="915.5,478 941.9,476.8" fill="none"/>
<path d="M903 472 L915 471 L916 478.5 L904 479 Q901 476 903 472 Z" fill="#5577b8"/>
<!-- face -->
<path d="M940.7 425 L941.3 436.4 L945.4 439.3 L950.1 440.5 L955.9 441 L956.5 437 L952 430 L948 425 Z" fill="#f2c392"/>
<path d="M940 426 Q940 418 948 417.5 Q956 417 959.5 422 L961 437 L957 438 L953.5 432 Q951.5 428 948 426.8 Z" fill="#3f4f86"/>
<path d="M955.9 441 L946.6 445.2 L939 455" fill="none" stroke-width="1.3"/>
</g>

<!-- OBJECT 6: decommissioning machine -->
<g stroke="#141a2e" stroke-width="1.6" stroke-linejoin="round">
<rect x="1002" y="574.8" width="9" height="8.2" fill="#475d96"/>
<rect x="1104" y="574.8" width="9" height="8.2" fill="#475d96"/>
<rect x="998.5" y="499.3" width="118" height="75.5" fill="#475d96"/>
<rect x="996.7" y="481" width="121.1" height="11" fill="#475d96"/>
<rect x="991.5" y="492" width="131.5" height="7.3" rx="1" fill="#eef2fa"/>
<rect x="997.5" y="400.4" width="49.5" height="10.4" rx="1.5" fill="#e7ecf8"/>
<rect x="991.5" y="410.8" width="56" height="70.3" rx="2" fill="#e7ecf8"/>
<line x1="991.5" y1="474.6" x2="1047.5" y2="474.6" stroke-width="1.3"/>
<rect x="1047.5" y="414.7" width="37" height="66.3" fill="#475d96"/>
<line x1="1047.5" y1="443.4" x2="1084.5" y2="443.4" stroke-width="1.3"/>
<rect x="1054" y="449.4" width="23.4" height="25.2" fill="#475d96"/>
<path d="M1059 449.4 v4 h13 v-4" fill="none" stroke-width="1.2"/>
<rect x="1084.5" y="418" width="37.2" height="63" rx="1.5" fill="#eef2fa"/>
<rect x="1090.4" y="423.3" width="24.8" height="16.2" fill="#2c3c72"/>
<rect x="1092.5" y="425.5" width="20.5" height="11.8" fill="#3fc26c" stroke="none"/>
<g fill="none" stroke="#141a2e" stroke-width="1.6">
<circle cx="1095" cy="446.1" r="2.2"/>
<path d="M1101.5 443.9 a2.2 2.2 0 1 0 0.01 0 M1102.8 444.5 v3.6"/>
<line x1="1105.8" y1="443.6" x2="1105.8" y2="448.6"/>
<path d="M1108.6 445 a2.3 2.3 0 1 1 0 2.4"/>
<circle cx="1095.3" cy="446.3" r="0.6" fill="#141a2e"/>
</g>
</g>

<!-- OBJECT 7: bench apparatus -->
<g stroke="#141a2e" stroke-width="1.6" stroke-linejoin="round">
<!-- table -->
<rect x="1185.5" y="510.6" width="7" height="72.4" fill="#c3d3ef"/>
<rect x="1304.2" y="510.6" width="7.4" height="72.4" fill="#c3d3ef"/>
<rect x="1192.5" y="510.6" width="111.7" height="13.3" fill="#475d96"/>
<rect x="1192.5" y="565.6" width="111.7" height="6.7" fill="#c3d3ef"/>
<path d="M1208 524 Q1206 540 1210 548 Q1214 552 1210 556 Q1206 560 1214 562 Q1224 570 1222 576 Q1218 584 1208 580 Q1196 572 1193 550" fill="none" stroke-width="1.3"/>
<rect x="1178.75" y="502.3" width="139.5" height="8.3" rx="1" fill="#eef2fa"/>
<!-- cable -->
<path d="M1229 377 Q1234 364 1243 368 Q1251 374 1251 398" fill="none" stroke-width="1.3"/>
<path d="M1229 392 Q1236 400 1236 412" fill="none" stroke-width="1.3"/>
<!-- tower -->
<rect x="1204.2" y="410.5" width="32.8" height="20.5" fill="#dfe6f5"/>
<rect x="1207.1" y="357.8" width="18.6" height="68.4" fill="#eef2fa"/>
<rect x="1225.7" y="367.6" width="3.5" height="55.6" fill="#eef2fa" stroke-width="1.2"/>
<rect x="1215.5" y="367.6" width="10.2" height="55.6" fill="#475d96"/>
<rect x="1206" y="426" width="28" height="5" fill="#eef2fa" stroke-width="1.2"/>
<!-- right column -->
<rect x="1250" y="397.9" width="17.7" height="26.3" fill="#dfe6f5"/>
<rect x="1246.9" y="424.4" width="22.1" height="64" fill="#eef2fa"/>
<rect x="1253.6" y="439.9" width="8.3" height="22.7" rx="1" fill="#475d96"/>
<rect x="1253.6" y="466.5" width="8.3" height="2.5" fill="#475d96" stroke-width="1"/>
<rect x="1253.6" y="472" width="8.3" height="13.3" fill="#475d96"/>
<!-- navy block + pipettes -->
<rect x="1227.6" y="445" width="18.8" height="42.5" fill="#475d96"/>
<rect x="1208.2" y="444.9" width="9" height="8.3" fill="#eef2fa" stroke-width="1.2"/>
<rect x="1212.6" y="453" width="5" height="13.5" fill="#dfe6f5" stroke-width="1.2"/>
<rect x="1218" y="444.9" width="9" height="22" fill="#eef2fa" stroke-width="1.1"/>
<!-- beam -->
<rect x="1190.5" y="433.8" width="55.9" height="11.1" fill="#c3d3ef"/>
<rect x="1205.4" y="433.8" width="27.7" height="11.1" fill="#dfe6f5" stroke-width="1.2"/>
<rect x="1209.9" y="430.5" width="18.8" height="10" fill="#eef2fa" stroke-width="1.2"/>
<line x1="1202" y1="436" x2="1202" y2="443" stroke-width="1.6"/>
<!-- vials -->
<rect x="1196.6" y="464.2" width="10.5" height="23.3" rx="1" fill="#dfe6f5" stroke-width="1.3"/>
<rect x="1210.4" y="467.6" width="10" height="19.9" fill="#eef2fa" stroke-width="1.3"/>
<rect x="1221" y="468.7" width="9.9" height="18.8" fill="#dfe6f5" stroke-width="1.3"/>
<rect x="1234.8" y="467.6" width="9.4" height="19.9" rx="1" fill="#dfe6f5" stroke-width="1.3"/>
<line x1="1213" y1="472" x2="1213" y2="487" stroke-width="1"/><line x1="1225" y1="473" x2="1225" y2="487" stroke-width="1"/><line x1="1238" y1="472" x2="1238" y2="487" stroke-width="1"/>
<!-- platform -->
<rect x="1185.5" y="488.6" width="83" height="8.3" fill="#e7ecf8"/>
<rect x="1186.5" y="496.9" width="82" height="5.4" fill="#dfe6f5"/>
<!-- device -->
<rect x="1272.2" y="444.7" width="39.4" height="57.6" rx="1.5" fill="#e7ecf8"/>
<line x1="1272.2" y1="497" x2="1311.6" y2="497" stroke-width="1.2"/>
<rect x="1277.5" y="451.6" width="29.25" height="34.1" rx="1.5" fill="#475d96"/>
<rect x="1282" y="455.5" width="20.9" height="13.5" fill="#3fc26c" stroke-width="1.3"/>
<g fill="#eef2fa" stroke="none">
<rect x="1282" y="473" width="3.2" height="3"/><rect x="1286.3" y="473" width="3.2" height="3"/><rect x="1290.6" y="473" width="3.2" height="3"/><rect x="1294.9" y="473" width="3.2" height="3"/><rect x="1299.2" y="473" width="3.2" height="3"/>
<rect x="1282" y="478.5" width="3.2" height="3"/><rect x="1286.3" y="478.5" width="3.2" height="3"/><rect x="1290.6" y="478.5" width="3.2" height="3"/><rect x="1294.9" y="478.5" width="3.2" height="3"/><rect x="1299.2" y="478.5" width="3.2" height="3"/>
</g>
</g>

<!-- MAN 2 -->
<g stroke="#141a2e" stroke-width="1.6" stroke-linejoin="round">
<polygon points="1143.3,535.6 1155,535.6 1149.5,576 1141,576" fill="#4a5b93"/>
<polygon points="1150.3,535.6 1166,535.6 1169.5,576 1160.5,576" fill="#4a5b93"/>
<path d="M1139.4 582.5 L1140.5 576 L1150 576 L1156.6 582.5 Z" fill="#2e3a66"/>
<path d="M1160.5 582.5 L1160.5 576 L1169.5 576 L1177.7 582.5 Z" fill="#2e3a66"/>
<!-- coat -->
<path d="M1149.2 440.8 L1159 442 L1170.8 463.1 L1182.5 463.1 L1182.5 468.7 L1172 468 L1167 478 L1167.1 500 L1169 535.6 L1138.6 535.6 L1141.1 500 Q1141 460 1143.6 449.5 Z" fill="#ffffff"/>
<path d="M1182.5 460 Q1188 455.5 1194.9 459.5 L1190 466 L1183 469 Z" fill="#5577b8"/>
<!-- front arm -->
<path d="M1150.4 462.5 L1191.2 474.2 L1191.2 481 L1165.8 478 Z" fill="#ffffff" stroke="none"/>
<polyline points="1150.4,462.5 1191.2,474.2" fill="none"/>
<polyline points="1191.2,481 1165.8,478" fill="none"/>
<path d="M1191.2 474 L1200 473.6 L1204.2 478 L1200 481.5 L1191.2 481 Z" fill="#5577b8"/>
<!-- face -->
<path d="M1156 425.5 L1165.8 425.4 L1166.8 432.8 L1163.4 437.8 L1158.4 440.2 L1159 442 L1149.2 440.8 L1152 436 L1154 430 Z" fill="#f2c392"/>
<path d="M1146.7 424.8 Q1148 416.5 1155.5 416.5 Q1164 416 1167.1 419.8 Q1167 424 1165.8 425.4 L1157.5 425.8 L1156 429 L1154.5 435.9 L1148.5 435.9 Z" fill="#3f4f86"/>
</g>
<!-- ground -->
<line x1="45.5" y1="583" x2="1322.5" y2="583" stroke="#1b2030" stroke-width="1.8" stroke-linecap="round"/>
</svg>
</body></html>
